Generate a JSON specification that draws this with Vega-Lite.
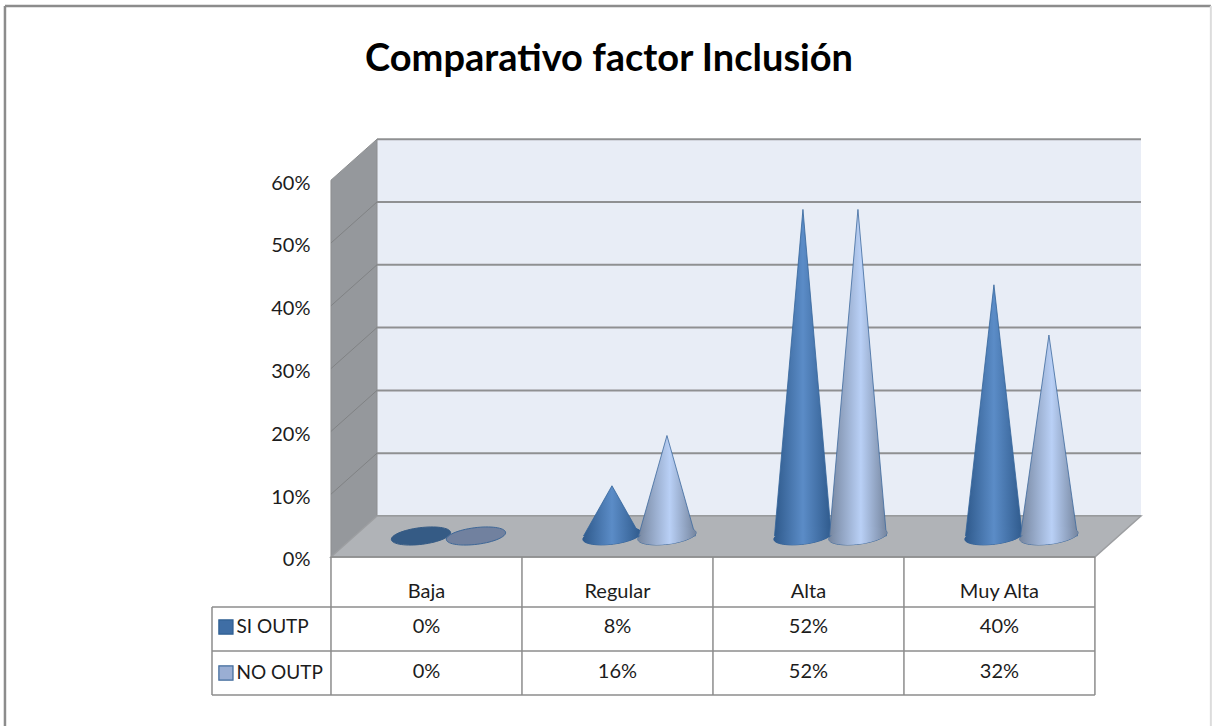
{
  "$schema": "https://vega.github.io/schema/vega-lite/v6.json",
  "width": 1212,
  "height": 726,
  "padding": 0,
  "autosize": "none",
  "background": "#ffffff",
  "view": {"stroke": null},
  "config": {"font": "Lato", "text": {"font": "Lato", "color": "#1c1c1c"}},
  "title": {"text": "Comparativo factor Inclusión", "font": "Lato", "fontSize": 38, "fontWeight": "bold", "color": "#000000", "anchor": "middle", "dx": 3, "offset": -79},
  "datasets": {
    "valores": [
      {"categoria": "Baja", "serie": "SI OUTP", "pos": -0.144, "valor": 0, "etiqueta": "0%", "filaY": -11.15},
      {"categoria": "Regular", "serie": "SI OUTP", "pos": 0.856, "valor": 8, "etiqueta": "8%", "filaY": -11.15},
      {"categoria": "Alta", "serie": "SI OUTP", "pos": 1.856, "valor": 52, "etiqueta": "52%", "filaY": -11.15},
      {"categoria": "Muy Alta", "serie": "SI OUTP", "pos": 2.856, "valor": 40, "etiqueta": "40%", "filaY": -11.15},
      {"categoria": "Baja", "serie": "NO OUTP", "pos": 0.144, "valor": 0, "etiqueta": "0%", "filaY": -18.3},
      {"categoria": "Regular", "serie": "NO OUTP", "pos": 1.144, "valor": 16, "etiqueta": "16%", "filaY": -18.3},
      {"categoria": "Alta", "serie": "NO OUTP", "pos": 2.144, "valor": 52, "etiqueta": "52%", "filaY": -18.3},
      {"categoria": "Muy Alta", "serie": "NO OUTP", "pos": 3.144, "valor": 32, "etiqueta": "32%", "filaY": -18.3}
    ],
    "categorias": [
      {"categoria": "Baja", "x": 0, "filaY": -5.6},
      {"categoria": "Regular", "x": 1, "filaY": -5.6},
      {"categoria": "Alta", "x": 2, "filaY": -5.6},
      {"categoria": "Muy Alta", "x": 3, "filaY": -5.6}
    ],
    "series": [
      {"serie": "SI OUTP", "x": -1.05, "xTexto": -0.995, "filaY": -11.15},
      {"serie": "NO OUTP", "x": -1.05, "xTexto": -0.995, "filaY": -18.47}
    ],
    "pared": [
      {"x": -0.5, "y": 0, "y2": 60},
      {"x": -0.259, "y": 6.53, "y2": 66.53}
    ],
    "piso": [
      {"y": 0, "x": -0.5, "x2": 3.5},
      {"y": 6.53, "x": -0.259, "x2": 3.741}
    ],
    "fondo": [{"x": -0.259, "x2": 3.741, "y": 6.53, "y2": 66.53}],
    "rejilla": [
      {"nivel": 0, "y": 6.53}, {"nivel": 10, "y": 16.53}, {"nivel": 20, "y": 26.53}, {"nivel": 30, "y": 36.53},
      {"nivel": 40, "y": 46.53}, {"nivel": 50, "y": 56.53}, {"nivel": 60, "y": 66.53}
    ],
    "diagonales": [
      {"nivel": 10, "x": -0.5, "y": 10}, {"nivel": 10, "x": -0.259, "y": 16.53},
      {"nivel": 20, "x": -0.5, "y": 20}, {"nivel": 20, "x": -0.259, "y": 26.53},
      {"nivel": 30, "x": -0.5, "y": 30}, {"nivel": 30, "x": -0.259, "y": 36.53},
      {"nivel": 40, "x": -0.5, "y": 40}, {"nivel": 40, "x": -0.259, "y": 46.53},
      {"nivel": 50, "x": -0.5, "y": 50}, {"nivel": 50, "x": -0.259, "y": 56.53}
    ],
    "tablaH": [
      {"x": -1.123, "x2": 3.5, "y": -7.96},
      {"x": -1.123, "x2": 3.5, "y": -14.97},
      {"x": -1.123, "x2": 3.5, "y": -21.97},
      {"x": -0.5, "x2": 3.5, "y": 0}
    ],
    "tablaV": [
      {"x": -1.123, "y": -7.96, "y2": -21.97},
      {"x": -0.5, "y": 0, "y2": -21.97},
      {"x": 0.5, "y": 0, "y2": -21.97},
      {"x": 1.5, "y": 0, "y2": -21.97},
      {"x": 2.5, "y": 0, "y2": -21.97},
      {"x": 3.5, "y": 0, "y2": -21.97}
    ],
    "marcoH": [{"x": -2.207, "x2": 4.107, "y": 87.74}],
    "marcoV": [{"x": -2.207, "y": 87.74, "y2": -26.91}],
    "marcoD": [{"x": 4.107, "y": 87.74, "y2": -26.91}]
  },
  "layer": [
    {
      "data": {"name": "marcoH"},
      "mark": {"type": "rule", "stroke": "#8c8c8c", "strokeWidth": 2.5},
      "encoding": {
        "x": {"field": "x", "type": "quantitative", "axis": null, "scale": {"domain": [-2.233, 4.113], "nice": false, "zero": false}},
        "x2": {"field": "x2"},
        "y": {"field": "y", "type": "quantitative", "axis": {"orient": "left", "offset": -318, "values": [0, 10, 20, 30, 40, 50, 60], "domain": false, "ticks": false, "grid": false, "title": null, "labelFont": "Lato", "labelFontSize": 20, "labelColor": "#1c1c1c", "labelPadding": 8, "labelOffset": 3, "labelExpr": "datum.value + '%'"}, "scale": {"domain": [-26.91, 88.69], "nice": false, "zero": false}}
      }
    },
    {
      "data": {"name": "marcoV"},
      "mark": {"type": "rule", "stroke": "#8c8c8c", "strokeWidth": 2.5},
      "encoding": {
        "x": {"field": "x", "type": "quantitative"},
        "y": {"field": "y", "type": "quantitative"},
        "y2": {"field": "y2"}
      }
    },
    {
      "data": {"name": "marcoD"},
      "mark": {"type": "rule", "stroke": "#dcdcdc", "strokeWidth": 2},
      "encoding": {
        "x": {"field": "x", "type": "quantitative"},
        "y": {"field": "y", "type": "quantitative"},
        "y2": {"field": "y2"}
      }
    },
    {
      "data": {"name": "fondo"},
      "mark": {"type": "rect", "fill": "#e8edf6"},
      "encoding": {
        "x": {"field": "x", "type": "quantitative"},
        "x2": {"field": "x2"},
        "y": {"field": "y", "type": "quantitative"},
        "y2": {"field": "y2"}
      }
    },
    {
      "data": {"name": "rejilla"},
      "mark": {"type": "rule", "stroke": "#8f9092", "strokeWidth": 2},
      "encoding": {
        "x": {"datum": -0.259, "type": "quantitative"},
        "x2": {"datum": 3.741},
        "y": {"field": "y", "type": "quantitative"}
      }
    },
    {
      "data": {"name": "pared"},
      "mark": {"type": "area", "fill": "#95989c", "stroke": "#8c8e90", "strokeWidth": 1},
      "encoding": {
        "x": {"field": "x", "type": "quantitative"},
        "y": {"field": "y", "type": "quantitative"},
        "y2": {"field": "y2"}
      }
    },
    {
      "data": {"name": "diagonales"},
      "mark": {"type": "line", "stroke": "#808284", "strokeWidth": 1},
      "encoding": {
        "x": {"field": "x", "type": "quantitative"},
        "y": {"field": "y", "type": "quantitative"},
        "detail": {"field": "nivel"}
      }
    },
    {
      "data": {"name": "piso"},
      "mark": {"type": "area", "orient": "horizontal", "fill": "#b0b3b7", "stroke": "#9c9ea1", "strokeWidth": 1.5},
      "encoding": {
        "y": {"field": "y", "type": "quantitative"},
        "x": {"field": "x", "type": "quantitative"},
        "x2": {"field": "x2"}
      }
    },
    {
      "data": {"name": "valores"},
      "transform": [{"filter": "datum.serie === 'SI OUTP' && datum.valor === 0"}],
      "mark": {"type": "point", "filled": true, "opacity": 1, "xOffset": 22, "yOffset": -21, "shape": "M-1,0.13 A1,0.28 -7 1 0 1,-0.13 A1,0.28 -7 1 0 -1,0.13 Z", "size": 3500, "fill": "#355b85", "stroke": "#355b85", "strokeWidth": 1},
      "encoding": {
        "x": {"field": "pos", "type": "quantitative"},
        "y": {"field": "valor", "type": "quantitative"}
      }
    },
    {
      "data": {"name": "valores"},
      "transform": [{"filter": "datum.serie === 'NO OUTP' && datum.valor === 0"}],
      "mark": {"type": "point", "filled": true, "opacity": 1, "xOffset": 22, "yOffset": -21, "shape": "M-1,0.13 A1,0.28 -7 1 0 1,-0.13 A1,0.28 -7 1 0 -1,0.13 Z", "size": 3500, "fill": "#71819f", "stroke": "#3e6797", "strokeWidth": 1},
      "encoding": {
        "x": {"field": "pos", "type": "quantitative"},
        "y": {"field": "valor", "type": "quantitative"}
      }
    },
    {
      "data": {"name": "valores"},
      "transform": [
        {"filter": "datum.serie === 'SI OUTP' && datum.valor > 0"},
        {"calculate": "0", "as": "base"},
        {"fold": ["valor", "base"], "as": ["extremo", "altura"]},
        {"calculate": "datum.extremo === 'base' ? 0.149 : 0", "as": "radio"},
        {"calculate": "datum.pos - datum.radio", "as": "izq"},
        {"calculate": "datum.pos + datum.radio", "as": "der"},
        {"calculate": "datum.pos", "as": "centro"},
        {"calculate": "0", "as": "cero"}
      ],
      "layer": [
        {
          "transform": [{"filter": "datum.extremo === 'base'"}],
          "mark": {"type": "point", "filled": true, "opacity": 1, "xOffset": 22, "yOffset": -21, "shape": "M-1,0.13 A1,0.28 -7 1 0 1,-0.13 A1,0.28 -7 1 0 -1,0.13 Z", "size": 3364, "stroke": "#34649a", "strokeWidth": 1, "fill": "#2f5a8c"},
          "encoding": {
            "x": {"field": "centro", "type": "quantitative"},
            "y": {"field": "cero", "type": "quantitative"}
          }
        },
        {
          "mark": {"type": "area", "orient": "horizontal", "xOffset": 22, "x2Offset": 22, "yOffset": -21, "stroke": "#34649a", "strokeWidth": 0.8, "fill": {"gradient": "linear", "x1": 0, "y1": 0, "x2": 1, "y2": 0, "stops": [{"offset": 0, "color": "#2f5a8c"}, {"offset": 0.5, "color": "#5b8cc7"}, {"offset": 1, "color": "#2f5a8c"}]}},
          "encoding": {
            "y": {"field": "altura", "type": "quantitative"},
            "x": {"field": "izq", "type": "quantitative"},
            "x2": {"field": "der"},
            "detail": {"field": "categoria"}
          }
        },
        {
          "transform": [{"filter": "datum.extremo === 'base'"}],
          "mark": {"type": "point", "filled": true, "opacity": 1, "xOffset": 22, "yOffset": -21, "shape": "M-1,0.13 A1,0.28 -7 1 0 1,-0.13 A1,0.28 -7 1 0 -1,0.13 Z", "size": 3364, "strokeWidth": 0, "fill": {"gradient": "linear", "x1": 0, "y1": 0, "x2": 1, "y2": 0, "stops": [{"offset": 0, "color": "#2f5a8c"}, {"offset": 0.5, "color": "#5b8cc7"}, {"offset": 1, "color": "#2f5a8c"}]}},
          "encoding": {
            "x": {"field": "centro", "type": "quantitative"},
            "y": {"field": "cero", "type": "quantitative"}
          }
        }
      ]
    },
    {
      "data": {"name": "valores"},
      "transform": [
        {"filter": "datum.serie === 'NO OUTP' && datum.valor > 0"},
        {"calculate": "0", "as": "base"},
        {"fold": ["valor", "base"], "as": ["extremo", "altura"]},
        {"calculate": "datum.extremo === 'base' ? 0.149 : 0", "as": "radio"},
        {"calculate": "datum.pos - datum.radio", "as": "izq"},
        {"calculate": "datum.pos + datum.radio", "as": "der"},
        {"calculate": "datum.pos", "as": "centro"},
        {"calculate": "0", "as": "cero"}
      ],
      "layer": [
        {
          "transform": [{"filter": "datum.extremo === 'base'"}],
          "mark": {"type": "point", "filled": true, "opacity": 1, "xOffset": 22, "yOffset": -21, "shape": "M-1,0.13 A1,0.28 -7 1 0 1,-0.13 A1,0.28 -7 1 0 -1,0.13 Z", "size": 3364, "stroke": "#3e6a9e", "strokeWidth": 1, "fill": "#76869f"},
          "encoding": {
            "x": {"field": "centro", "type": "quantitative"},
            "y": {"field": "cero", "type": "quantitative"}
          }
        },
        {
          "mark": {"type": "area", "orient": "horizontal", "xOffset": 22, "x2Offset": 22, "yOffset": -21, "stroke": "#3e6a9e", "strokeWidth": 0.8, "fill": {"gradient": "linear", "x1": 0, "y1": 0, "x2": 1, "y2": 0, "stops": [{"offset": 0, "color": "#76869f"}, {"offset": 0.55, "color": "#b9d0f6"}, {"offset": 1, "color": "#76869f"}]}},
          "encoding": {
            "y": {"field": "altura", "type": "quantitative"},
            "x": {"field": "izq", "type": "quantitative"},
            "x2": {"field": "der"},
            "detail": {"field": "categoria"}
          }
        },
        {
          "transform": [{"filter": "datum.extremo === 'base'"}],
          "mark": {"type": "point", "filled": true, "opacity": 1, "xOffset": 22, "yOffset": -21, "shape": "M-1,0.13 A1,0.28 -7 1 0 1,-0.13 A1,0.28 -7 1 0 -1,0.13 Z", "size": 3364, "strokeWidth": 0, "fill": {"gradient": "linear", "x1": 0, "y1": 0, "x2": 1, "y2": 0, "stops": [{"offset": 0, "color": "#76869f"}, {"offset": 0.55, "color": "#b9d0f6"}, {"offset": 1, "color": "#76869f"}]}},
          "encoding": {
            "x": {"field": "centro", "type": "quantitative"},
            "y": {"field": "cero", "type": "quantitative"}
          }
        }
      ]
    },
    {
      "data": {"name": "tablaH"},
      "mark": {"type": "rule", "stroke": "#8c8c8c", "strokeWidth": 1.5},
      "encoding": {
        "x": {"field": "x", "type": "quantitative"},
        "x2": {"field": "x2"},
        "y": {"field": "y", "type": "quantitative"}
      }
    },
    {
      "data": {"name": "tablaV"},
      "mark": {"type": "rule", "stroke": "#8c8c8c", "strokeWidth": 1.5},
      "encoding": {
        "x": {"field": "x", "type": "quantitative"},
        "y": {"field": "y", "type": "quantitative"},
        "y2": {"field": "y2"}
      }
    },
    {
      "data": {"name": "categorias"},
      "mark": {"type": "text", "fontSize": 20, "align": "center", "baseline": "middle"},
      "encoding": {
        "x": {"field": "x", "type": "quantitative"},
        "y": {"field": "filaY", "type": "quantitative"},
        "text": {"field": "categoria"}
      }
    },
    {
      "data": {"name": "valores"},
      "transform": [{"calculate": "datum.pos + (datum.serie === 'SI OUTP' ? 0.144 : -0.144)", "as": "columna"}],
      "mark": {"type": "text", "fontSize": 20, "align": "center", "baseline": "middle"},
      "encoding": {
        "x": {"field": "columna", "type": "quantitative"},
        "y": {"field": "filaY", "type": "quantitative"},
        "text": {"field": "etiqueta"}
      }
    },
    {
      "data": {"name": "series"},
      "mark": {"type": "text", "fontSize": 19, "align": "left", "baseline": "middle"},
      "encoding": {
        "x": {"field": "xTexto", "type": "quantitative"},
        "y": {"field": "filaY", "type": "quantitative"},
        "text": {"field": "serie"}
      }
    },
    {
      "data": {"name": "series"},
      "transform": [{"filter": "datum.serie === 'SI OUTP'"}],
      "mark": {"type": "point", "shape": "square", "filled": true, "opacity": 1, "size": 200, "fill": "#3f6ea5", "stroke": "#2f5f92", "strokeWidth": 1.2},
      "encoding": {
        "x": {"field": "x", "type": "quantitative"},
        "y": {"field": "filaY", "type": "quantitative"}
      }
    },
    {
      "data": {"name": "series"},
      "transform": [{"filter": "datum.serie === 'NO OUTP'"}],
      "mark": {"type": "point", "shape": "square", "filled": true, "opacity": 1, "size": 200, "fill": "#9aaed3", "stroke": "#3f6a9b", "strokeWidth": 1.2},
      "encoding": {
        "x": {"field": "x", "type": "quantitative"},
        "y": {"field": "filaY", "type": "quantitative"}
      }
    }
  ]
}
